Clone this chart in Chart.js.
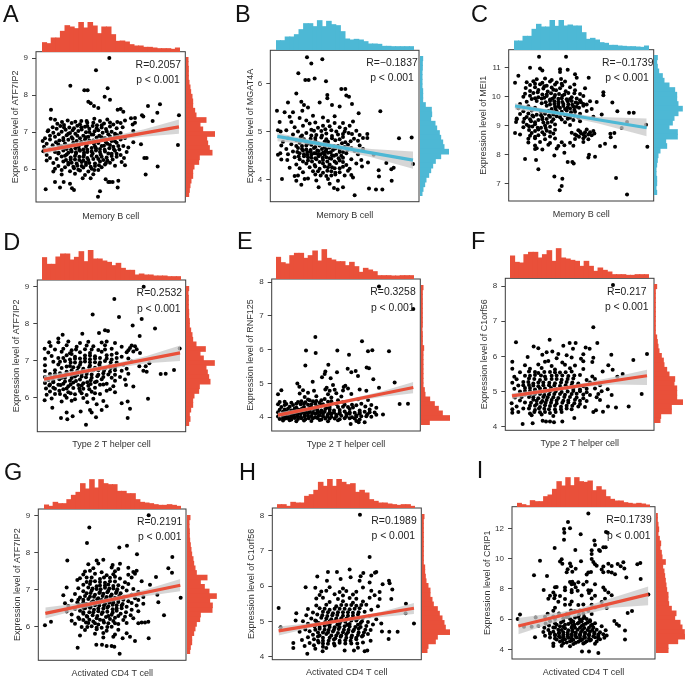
<!DOCTYPE html>
<html><head><meta charset="utf-8">
<script src="https://cdn.jsdelivr.net/npm/chart.js@4"></script>
<style>html,body{margin:0;padding:0;background:#fff;width:685px;height:678px;overflow:hidden;position:relative}canvas{position:absolute}</style>
</head><body>
<script>
// x,y pairs (x = unlabelled cell score in arbitrary units, y = expression)
const aPoints=[328,9,288,8.67,211,8.25,253,8.13,263,8.13,323,8.18,314,7.95,330,7.87,153,7.6,265,7.82,272,7.78,282,7.7,295,7.65,353,7.6,362,7.62,370,7.55,444,7.7,480,7.75,472,7.52,537,7.45,426,7.45,430,7.42,458,7.3,534,6.65,152,7.36,393,7.37,405,7.38,405,7.25,423,6.67,433,6.3,440,6.3,437,5.85,473,6.07,137,5.45,165,5.65,180,5.5,191,5.65,210,5.6,216,5.48,222,5.43,294,5.25,300,5.4,317,5.72,325,5.65,330,5.65,338,5.65,355,5.68,353,5.5,248,5.75,
165,7.33,186,7.27,203,7.31,226,7.28,283,7.36,300,7.3,322,7.34,352,7.27,375,7.31,172,7.22,192,7.19,215,7.24,240,7.21,262,7.25,291,7.18,312,7.23,340,7.2,362,7.24,398,7.2,158,7.13,181,7.16,208,7.12,232,7.17,255,7.14,278,7.16,305,7.12,330,7.15,368,7.13,145,7.05,170,7.09,197,7.06,222,7.1,245,7.07,268,7.09,295,7.05,318,7.08,350,7.1,143,7.02,160,6.98,185,7.01,210,6.97,235,7.03,258,6.99,284,7.02,308,6.98,335,7.01,362,6.97,400,7.03,150,6.9,176,6.94,200,6.91,226,6.95,250,6.9,275,6.93,298,6.9,325,6.94,352,6.91,135,6.83,165,6.87,190,6.84,215,6.86,240,6.83,265,6.87,290,6.85,315,6.83,345,6.87,375,6.84,128,6.76,150,6.8,178,6.77,205,6.79,230,6.76,255,6.8,280,6.77,305,6.79,335,6.76,362,6.8,400,6.72,140,6.68,168,6.72,195,6.69,220,6.71,245,6.68,270,6.72,295,6.7,322,6.68,350,6.71,385,6.58,132,6.6,158,6.64,185,6.61,212,6.63,236,6.6,260,6.64,285,6.61,312,6.63,340,6.6,370,6.62,150,6.53,176,6.57,200,6.54,226,6.56,250,6.53,275,6.57,300,6.54,328,6.56,358,6.53,130,6.48,165,6.46,190,6.5,215,6.47,240,6.49,262,6.46,288,6.5,315,6.47,345,6.49,380,6.46,140,6.38,175,6.42,200,6.39,228,6.41,252,6.38,278,6.42,302,6.39,335,6.41,362,6.38,150,6.3,185,6.34,212,6.31,238,6.33,262,6.3,290,6.34,320,6.31,350,6.33,372,6.3,140,6.23,170,6.27,198,6.24,225,6.26,250,6.23,280,6.27,310,6.24,338,6.26,160,6.16,190,6.2,215,6.17,245,6.19,268,6.16,300,6.2,330,6.17,365,6.19,375,6.1,175,6.08,205,6.12,232,6.09,258,6.11,285,6.08,315,6.12,345,6.09,165,6.01,195,6.05,222,6.02,250,6.04,275,6.01,305,6.05,160,5.93,185,5.97,210,5.94,240,5.96,265,5.93,295,5.97,185,5.85,225,5.87,255,5.84,280,5.86,272,5.75,
192,7.12,218,7.05,244,7.13,268,7,290,7.1,320,7.02,345,6.95,205,6.95,232,6.9,258,6.86,280,6.93,305,6.86,330,6.88,190,6.78,218,6.82,244,6.73,268,6.77,292,6.75,318,6.72,345,6.75,175,6.66,205,6.62,232,6.66,258,6.6,282,6.68,305,6.62,330,6.65,355,6.62,190,6.55,213,6.52,238,6.52,262,6.52,288,6.56,314,6.52,342,6.53,176,6.44,205,6.44,228,6.45,252,6.44,275,6.47,300,6.46,325,6.42,350,6.41,195,6.36,225,6.35,250,6.33,275,6.36,305,6.33,335,6.35,212,6.26,238,6.24,265,6.24,295,6.27,322,6.23,205,6.17,230,6.15,258,6.17,285,6.15,318,6.16,220,6.06,245,6.08,272,6.06,297,6.1,235,5.98,283,5.97,260,7.3,244,7.3,305,7.18,330,7.26,280,7.25,262,7.16];
const bPoints=[237,6.54,250,6.41,283,6.5,211,6.21,232,6.07,242,6.07,260,6.1,294,6.04,340,5.88,352,5.88,355,5.75,363,5.72,298,5.76,298,5.69,205,5.79,180,5.6,220,5.62,228,5.55,147,5.43,170,5.4,195,5.4,223,5.43,240,5.5,275,5.6,312,5.55,335,5.52,372,5.57,457,5.42,392,5.38,418,4.95,418,4.87,513,4.86,551,4.88,555,4.33,491,3.98,437,4.52,475,4.35,452,4.2,453,4.07,497,4.25,490,4.22,162,4.02,380,3.68,423,3.82,444,3.8,463,3.8,329,3.8,318,3.83,345,3.85,272,3.85,220,3.9,205,3.98,200,4.08,240,4.03,230,4.02,185,4.25,160,4.42,150,4.52,157,4.55,155,5.2,150,5.03,158,5,375,4.05,370,4.1,402,4.28,420,4.36,
185,5.31,215,5.28,255,5.33,285,5.29,320,5.32,190,5.2,235,5.23,262,5.19,300,5.22,345,5.18,375,5.21,200,5.09,225,5.12,270,5.08,305,5.11,335,5.09,365,5.12,175,5.03,210,5,250,5.04,280,5.01,310,5.03,350,5,385,5.02,195,4.94,235,4.97,265,4.93,295,4.96,330,4.94,362,4.97,395,4.93,180,4.86,218,4.89,248,4.85,280,4.88,312,4.86,345,4.89,378,4.85,405,4.87,165,4.79,205,4.82,235,4.78,262,4.81,290,4.79,322,4.82,352,4.78,390,4.81,160,4.71,190,4.74,222,4.7,250,4.73,275,4.71,300,4.74,330,4.7,360,4.73,395,4.71,175,4.64,210,4.66,235,4.63,258,4.66,282,4.64,305,4.67,335,4.63,370,4.66,405,4.64,195,4.59,225,4.61,248,4.58,268,4.61,292,4.59,315,4.62,345,4.58,380,4.6,180,4.53,215,4.55,238,4.52,258,4.55,278,4.53,300,4.56,325,4.52,355,4.55,390,4.53,200,4.47,228,4.49,250,4.46,272,4.49,295,4.47,318,4.5,345,4.46,178,4.41,215,4.43,240,4.4,265,4.43,285,4.41,310,4.44,335,4.4,370,4.43,400,4.41,205,4.32,235,4.34,260,4.31,285,4.34,305,4.32,325,4.35,355,4.31,385,4.34,215,4.24,245,4.26,275,4.23,300,4.26,320,4.24,345,4.27,365,4.23,225,4.16,255,4.18,285,4.15,310,4.18,335,4.16,360,4.19,210,4.09,262,4.11,295,4.08,322,4.11,350,4.09,265,3.99,300,4.02,330,3.98,305,3.92,
245,5.17,285,5.12,320,5.18,352,5.06,258,5.02,292,5.05,325,5,372,4.95,222,4.92,250,4.92,282,4.92,312,4.91,345,4.95,228,4.84,262,4.87,295,4.84,335,4.84,368,4.8,215,4.77,240,4.76,270,4.76,300,4.79,342,4.76,205,4.7,235,4.71,262,4.68,290,4.68,318,4.7,350,4.68,222,4.64,248,4.62,272,4.6,295,4.63,322,4.65,358,4.62,208,4.58,238,4.58,262,4.55,285,4.56,308,4.57,335,4.58,228,4.53,250,4.52,270,4.53,290,4.52,312,4.51,340,4.5,212,4.49,240,4.47,262,4.45,284,4.46,305,4.45,332,4.45,225,4.38,252,4.38,275,4.37,298,4.38,320,4.38,345,4.37,262,4.28,290,4.28,312,4.26,335,4.24,270,4.18,298,4.19,322,4.15,278,4.09,310,4.09];
const cPoints=[252,11.38,333,11.38,180,10.48,190,10.72,225,11,255,10.97,262,10.9,315,10.95,338,10.93,315,10.85,360,10.77,365,10.65,401,10.65,445,10.15,445,10.05,472,9.8,487,9.5,522,9.45,536,9.45,516,9.13,500,8.92,573,9.03,577,8.27,480,8.27,467,8.6,478,8.75,466,8.72,450,8.38,435,8.3,210,7.85,243,7.82,250,7.5,298,7.25,322,7.17,320,6.92,314,6.77,483,7.2,516,6.63,338,7.75,352,7.75,356,7.7,402,8,400,7.9,420,7.93,298,7.97,328,8.07,180,8.75,195,8.7,183,9.13,185,9.25,
245,10.6,270,10.63,290,10.58,318,10.61,215,10.5,235,10.53,262,10.48,285,10.52,305,10.49,330,10.52,225,10.4,255,10.43,275,10.38,300,10.42,322,10.39,358,10.42,212,10.3,240,10.33,265,10.28,290,10.32,315,10.29,345,10.33,390,10.29,225,10.2,250,10.23,278,10.18,303,10.22,332,10.19,360,10.22,210,10.1,235,10.13,262,10.08,288,10.12,312,10.09,340,10.13,375,10.09,205,10,225,10.03,250,9.98,275,10.02,298,9.99,322,10.03,350,9.98,385,10.02,230,9.92,260,9.94,285,9.9,310,9.93,335,9.91,365,9.94,215,9.83,245,9.85,272,9.81,298,9.84,322,9.82,350,9.85,378,9.81,405,9.84,425,9.82,195,9.75,260,9.77,285,9.73,310,9.76,340,9.74,368,9.77,395,9.73,220,9.67,275,9.69,300,9.65,325,9.68,355,9.66,385,9.69,190,9.6,240,9.62,290,9.58,315,9.61,345,9.59,372,9.62,410,9.58,205,9.5,230,9.52,258,9.48,280,9.51,305,9.49,335,9.52,360,9.48,395,9.51,195,9.4,220,9.42,245,9.38,270,9.41,295,9.39,320,9.42,345,9.38,375,9.41,440,9.39,215,9.3,235,9.32,262,9.28,285,9.31,315,9.29,340,9.32,370,9.28,415,9.31,185,9.22,208,9.24,250,9.2,275,9.23,320,9.21,338,9.24,355,9.2,205,9.13,228,9.15,265,9.11,290,9.14,330,9.12,375,9.15,215,9.03,240,9.05,270,9.01,300,9.04,345,9.02,205,8.95,232,8.97,258,8.93,285,8.96,222,8.85,250,8.87,275,8.83,300,8.86,370,8.84,395,8.87,230,8.75,262,8.77,295,8.73,350,8.76,378,8.74,405,8.77,418,8.73,225,8.65,250,8.67,285,8.63,365,8.66,390,8.64,410,8.67,220,8.55,240,8.57,270,8.53,300,8.56,360,8.54,385,8.57,400,8.53,220,8.42,255,8.44,285,8.4,320,8.43,345,8.41,385,8.44,240,8.32,280,8.34,310,8.3,328,8.33,355,8.31,240,8.2,245,8.22,262,8.18,305,8.21,
240,10.45,268,10.36,295,10.24,320,10.45,248,10.15,275,10.08,300,10.06,328,10.08,358,10.12,240,9.95,268,9.96,292,9.93,320,9.95,345,9.92,375,9.88,285,9.85,310,9.83,338,9.84,362,9.8,298,9.75,325,9.75,352,9.72,385,9.75,310,9.67,338,9.64,365,9.65,302,9.58,330,9.58,358,9.55,270,9.48,295,9.46,320,9.48,348,9.46,232,9.35,258,9.36,282,9.35,305,9.33,330,9.36,358,9.34,225,9.22,262,9.22,295,9.22,345,9.27,240,9.12,278,9.1,222,8.98,248,8.93,272,8.92,240,8.82,285,8.78,375,8.8,385,8.7,360,8.7,400,8.7,390,8.77,372,8.62,268,8.7,240,8.62,415,8.82];
const dPoints=[431,9,343,8.67,278,8.25,357,8.18,425,8.13,398,7.95,465,7.87,419,7.67,188,7.7,247,7.73,297,7.75,315,7.82,324,7.8,175,7.6,148,7.5,134,7.32,539,7.33,522,6.75,497,6.65,482,6.64,444,5.97,448,6.93,437,6.85,430,6.73,440,6.7,183,5.45,200,5.6,202,5.42,218,5.5,258,5.27,288,5.47,383,5.45,390,5.7,157,5.73,134,5.93,242,5.63,270,5.67,275,5.6,290,5.82,305,5.67,320,5.77,383,5.9,365,5.85,400,6.3,418,6.85,
175,7.5,205,7.52,240,7.48,265,7.51,305,7.49,320,7.52,345,7.48,152,7.4,200,7.42,230,7.38,260,7.41,280,7.39,315,7.42,365,7.38,395,7.41,405,7.39,165,7.3,190,7.32,215,7.28,255,7.31,295,7.29,335,7.32,385,7.28,410,7.31,145,7.22,185,7.24,210,7.2,240,7.23,270,7.21,305,7.24,350,7.2,380,7.23,420,7.21,155,7.13,200,7.15,225,7.11,255,7.14,285,7.12,320,7.15,365,7.11,135,7.05,175,7.07,210,7.03,240,7.06,270,7.04,300,7.07,335,7.03,385,7.06,160,6.97,195,6.99,225,6.95,255,6.98,285,6.96,315,6.99,350,6.95,395,6.98,135,6.88,175,6.9,210,6.86,240,6.89,270,6.87,298,6.9,330,6.86,370,6.89,185,6.8,220,6.82,250,6.78,285,6.81,315,6.79,345,6.82,380,6.78,135,6.72,165,6.74,200,6.7,232,6.73,262,6.71,295,6.74,330,6.7,365,6.73,150,6.64,180,6.66,215,6.62,245,6.65,275,6.63,310,6.66,345,6.62,385,6.65,135,6.56,165,6.58,195,6.54,225,6.57,258,6.55,292,6.58,335,6.54,145,6.48,178,6.5,210,6.46,240,6.49,272,6.47,305,6.5,345,6.46,375,6.49,135,6.4,160,6.42,190,6.38,220,6.41,250,6.39,285,6.42,320,6.38,148,6.33,175,6.35,205,6.31,235,6.34,265,6.32,300,6.35,340,6.31,378,6.34,138,6.25,160,6.27,190,6.23,220,6.26,250,6.24,285,6.27,330,6.23,150,6.17,178,6.19,205,6.15,240,6.18,275,6.16,320,6.19,345,6.15,140,6.08,165,6.1,195,6.06,225,6.09,260,6.07,300,6.1,155,5.98,200,6,225,5.96,250,5.99,280,5.97,185,5.9,215,5.92,262,5.88,310,5.91,
160,6.45,195,6.44,228,6.45,262,6.42,290,6.44,150,6.36,182,6.34,212,6.36,245,6.33,272,6.37,310,6.36,165,6.24,200,6.25,238,6.25,268,6.23,180,6.1,212,6.12,245,6.12,285,6.12,155,6.54,185,6.54,215,6.53,245,6.57,275,6.54,310,6.56,165,6.65,198,6.63,232,6.62,260,6.64,295,6.62,325,6.63,360,6.56,215,6.74,248,6.72,280,6.74,312,6.73,345,6.74,200,6.84,235,6.82,268,6.82,300,6.83,332,6.8,180,6.97,212,6.95,242,6.96,270,6.96,300,6.95,332,6.96,190,7.07,225,7.05,255,7.06,285,7.06,320,7.06,350,7.07,215,7.18,270,7.14,335,7.16,228,7.3,275,7.3,315,7.3,390,7.34,400,7.25];
const ePoints=[453,7.87,556,7.2,262,6.37,402,6.25,234,5.97,263,5.9,328,5.97,363,5.85,420,5.95,433,5.98,483,5.95,232,5.53,301,5.55,292,5.35,290,5.28,327,5.33,359,5.43,370,5.33,383,5.37,390,5.22,416,5.47,423,5.45,436,5.12,254,5.05,208,5,214,4.9,282,5.18,308,5.15,500,5.03,453,4.87,515,4.39,540,4.4,150,4.68,160,4.8,258,4.78,368,3.8,392,3.85,410,3.85,
315,4.95,352,4.93,296,4.87,347,4.89,360,4.85,225,4.8,292,4.82,305,4.78,320,4.81,345,4.79,395,4.82,415,4.78,215,4.7,240,4.72,300,4.68,325,4.71,370,4.69,230,4.6,265,4.62,310,4.58,340,4.61,240,4.52,290,4.54,330,4.5,390,4.53,420,4.51,155,4.45,170,4.46,190,4.43,210,4.45,232,4.44,255,4.47,275,4.43,300,4.46,150,4.38,175,4.39,195,4.36,218,4.38,240,4.37,262,4.4,280,4.36,325,4.39,372,4.37,400,4.4,430,4.36,160,4.3,185,4.31,205,4.28,228,4.3,250,4.29,270,4.32,295,4.28,345,4.31,375,4.29,412,4.32,445,4.28,155,4.22,170,4.23,190,4.2,212,4.22,235,4.21,258,4.24,280,4.2,305,4.23,335,4.21,365,4.24,395,4.2,425,4.23,150,4.15,165,4.16,182,4.13,200,4.15,222,4.14,245,4.17,268,4.13,290,4.16,318,4.14,350,4.17,380,4.13,410,4.16,440,4.14,155,4.08,172,4.09,190,4.06,208,4.08,230,4.07,252,4.1,275,4.06,300,4.09,325,4.07,355,4.1,385,4.06,418,4.09,445,4.07,465,4.08,150,4.02,165,4.03,180,4,198,4.02,218,4.01,240,4.04,262,4,285,4.03,310,4.01,340,4.04,372,4,400,4.03,430,4.01,155,3.95,172,3.96,190,3.93,210,3.95,232,3.94,255,3.97,280,3.93,305,3.96,335,3.94,365,3.97,395,3.93,165,3.9,185,3.91,205,3.88,228,3.9,250,3.89,275,3.92,300,3.88,330,3.91,385,3.89,
200,4.2,222,4.18,245,4.23,268,4.2,292,4.24,318,4.2,180,4.1,200,4.1,218,4.11,240,4.12,262,4.1,285,4.1,310,4.1,335,4.1,365,4.1,395,4.1,172,4.02,190,4.02,208,4.03,230,4.02,250,4.03,272,4.04,298,4.03,325,4.03,355,4.03,385,4.02,415,4.03,165,3.96,182,3.96,200,3.98,220,3.97,242,3.97,268,3.98,292,3.96,320,3.96,350,3.97,380,3.96,175,4.16,192,4.15,210,4.14,232,4.15,255,4.15,278,4.15,305,4.15,335,4.14,365,4.15,395,4.14,425,4.15,180,4.25,200,4.26,222,4.26,245,4.27,268,4.27,305,4.3,330,4.3,360,4.3,170,4.36,205,4.4,228,4.4,250,4.38,285,4.38,350,4.37,385,4.35,220,4.47,245,4.5,265,4.48,280,4.5,310,4.47,345,4.45];
const fPoints=[474,8.03,415,6.83,427,6.38,183,6.4,284,6.47,236,6.28,250,6.23,576,6.07,535,5.9,469,6.05,325,6.3,344,6.38,362,6.38,354,6.22,392,6.25,404,6.22,172,5.85,218,5.98,560,4.93,521,4.58,483,4.55,459,4.58,470,4.9,503,5.5,487,5.42,460,5.75,473,5.62,443,5.57,203,4.08,233,4.1,263,4.17,273,4.15,285,4.15,297,4.13,322,4.15,358,4.25,415,4.42,423,4.47,444,4.43,172,5.65,178,5.42,
275,6.12,292,6.14,262,6.05,310,6.07,335,6.03,385,6.06,305,5.95,350,5.97,378,5.93,415,5.96,270,5.85,280,5.87,322,5.83,385,5.86,412,5.84,210,5.75,250,5.77,290,5.73,330,5.76,360,5.74,225,5.65,260,5.67,300,5.63,345,5.66,385,5.64,195,5.55,222,5.57,250,5.53,285,5.56,315,5.54,350,5.57,210,5.45,240,5.47,270,5.43,305,5.46,340,5.44,375,5.47,412,5.43,185,5.35,222,5.37,255,5.33,290,5.36,320,5.34,355,5.37,395,5.33,420,5.36,172,5.25,205,5.27,235,5.23,265,5.26,300,5.24,335,5.27,370,5.23,405,5.26,190,5.17,222,5.19,250,5.15,282,5.18,315,5.16,350,5.19,385,5.15,435,5.18,178,5.08,210,5.1,240,5.06,270,5.09,305,5.07,335,5.1,375,5.06,420,5.09,458,5.07,195,5,225,5.02,255,4.98,285,5.01,320,4.99,355,5.02,395,4.98,440,5.01,210,4.92,240,4.94,268,4.9,298,4.93,330,4.91,365,4.94,405,4.9,430,4.93,180,4.83,222,4.85,250,4.81,278,4.84,310,4.82,345,4.85,385,4.81,425,4.84,195,4.75,235,4.77,262,4.73,290,4.76,325,4.74,360,4.77,395,4.73,435,4.76,170,4.67,210,4.69,245,4.65,272,4.68,305,4.66,340,4.69,375,4.65,185,4.58,225,4.6,255,4.56,285,4.59,318,4.57,352,4.6,390,4.56,172,4.5,205,4.52,240,4.48,268,4.51,300,4.49,335,4.52,172,4.4,190,4.42,225,4.38,255,4.41,285,4.39,320,4.42,230,4.33,260,4.35,295,4.31,
245,4.74,275,4.76,305,4.75,340,4.75,375,4.74,228,4.68,258,4.68,288,4.68,322,4.68,358,4.67,240,4.6,270,4.61,300,4.6,335,4.6,370,4.58,222,4.52,252,4.52,282,4.5,318,4.5,350,4.5,238,4.42,270,4.42,302,4.42,200,4.85,235,4.84,265,4.85,295,4.84,328,4.85,365,4.83,225,4.92,255,4.93,282,4.92,315,4.93,350,4.93,385,4.92,210,5.02,240,5.02,270,5,302,5,338,5,375,5.01,225,5.1,255,5.09,288,5.1,320,5.09,355,5.08,395,5.08,205,5.18,235,5.17,265,5.18,298,5.17,332,5.18,368,5.17,220,5.27,250,5.26,283,5.25,318,5.26,352,5.26,238,5.36,272,5.36,305,5.36,338,5.36,225,5.45,258,5.46,290,5.45,322,5.46,358,5.46,240,5.56,268,5.56,300,5.55,332,5.55];
const gPoints=[446,9,268,8.67,261,8.25,202,7.78,381,8.18,358,8.13,411,7.95,517,7.87,505,7.57,516,7.45,135,6.03,153,6.12,542,6.77,492,6.3,446,5.68,233,5.42,289,5.5,306,5.5,320,5.47,335,5.47,343,5.45,359,5.26,240,5.75,405,5.6,390,5.72,190,6.84,200,7.05,232,7.25,468,7.33,450,7.12,472,6.85,475,6.65,445,6.12,435,6.1,425,6.1,415,6.08,
290,7.78,310,7.8,265,7.68,295,7.7,338,7.66,360,7.69,280,7.57,335,7.59,355,7.55,385,7.58,255,7.48,270,7.5,305,7.46,345,7.49,400,7.47,410,7.5,250,7.4,285,7.42,320,7.38,340,7.41,385,7.39,405,7.42,240,7.3,275,7.32,300,7.28,330,7.31,360,7.29,395,7.32,260,7.2,285,7.22,315,7.18,345,7.21,375,7.19,425,7.22,250,7.12,270,7.14,300,7.1,325,7.13,355,7.11,385,7.14,235,7.03,265,7.05,290,7.01,315,7.04,340,7.02,368,7.05,400,7.01,250,6.95,275,6.97,300,6.93,325,6.96,350,6.94,380,6.97,415,6.93,225,6.87,260,6.89,285,6.85,310,6.88,335,6.86,362,6.89,395,6.85,240,6.78,270,6.8,295,6.76,320,6.79,345,6.77,372,6.8,405,6.76,430,6.79,215,6.7,250,6.72,280,6.68,305,6.71,330,6.69,355,6.72,385,6.68,415,6.71,195,6.62,232,6.64,260,6.6,288,6.63,315,6.61,340,6.64,368,6.6,395,6.63,430,6.61,205,6.55,245,6.57,272,6.53,298,6.56,325,6.54,350,6.57,380,6.53,410,6.56,225,6.47,255,6.49,282,6.45,310,6.48,338,6.46,365,6.49,395,6.45,200,6.4,240,6.42,268,6.38,295,6.41,322,6.39,350,6.42,378,6.38,415,6.41,215,6.32,250,6.34,278,6.3,305,6.33,335,6.31,362,6.34,392,6.3,235,6.24,262,6.26,290,6.22,318,6.25,345,6.23,375,6.26,400,6.22,215,6.15,250,6.17,280,6.13,310,6.16,340,6.14,370,6.17,225,6.07,265,6.09,295,6.05,325,6.08,355,6.06,380,6.09,245,5.98,275,6,305,5.96,335,5.99,255,5.9,290,5.92,320,5.88,355,5.91,285,5.8,310,5.82,345,5.78,380,5.81,310,5.7,340,5.72,368,5.68,
250,6.5,270,6.5,295,6.48,322,6.5,350,6.48,238,6.58,262,6.56,285,6.57,312,6.56,338,6.58,365,6.56,250,6.64,275,6.65,300,6.65,328,6.64,355,6.66,235,6.72,265,6.74,292,6.73,318,6.74,342,6.73,370,6.72,255,6.82,282,6.8,308,6.82,332,6.81,358,6.82,272,6.9,298,6.9,322,6.92,348,6.9,278,7.02,302,7,328,7.02,352,7,290,7.08,315,7.1,340,7.09,272,7.22,300,7.2,330,7.22,260,7.32,312,7.32,345,7.34,250,6.38,280,6.38,308,6.38,338,6.37,260,6.28,292,6.28,325,6.28,355,6.28,238,6.2,268,6.18,300,6.18,330,6.2,258,6.1,285,6.08,312,6.1,345,6.08,262,5.98,290,5.96,322,5.98];
const hPoints=[396,8.03,425,6.83,152,5.38,158,4.83,233,5.97,268,6.27,300,6.4,327,6.4,365,6.47,406,6.37,398,6.28,395,6.15,441,6.38,445,6.4,430,6.3,297,6.15,338,6.2,368,6.25,425,6.1,464,6.05,483,6.15,485,6.08,493,5.9,490,5.63,534,5.5,533,5.23,558,4.94,509,4.7,484,4.7,482,4.5,205,5.23,203,5.02,196,4.38,196,4.24,238,4.08,350,4.17,378,4.17,410,4.15,418,4.17,390,4.25,284,4.15,
262,5.95,305,5.97,345,5.93,405,5.96,280,5.85,295,5.87,335,5.83,355,5.86,385,5.84,430,5.87,455,5.83,275,5.75,320,5.77,345,5.73,375,5.76,440,5.74,265,5.65,285,5.67,330,5.63,365,5.66,385,5.64,425,5.67,455,5.63,305,5.55,345,5.57,375,5.53,405,5.56,265,5.45,295,5.47,325,5.43,355,5.46,385,5.44,415,5.47,450,5.43,240,5.35,275,5.37,305,5.33,335,5.36,365,5.34,395,5.37,430,5.33,255,5.25,285,5.27,315,5.23,345,5.26,375,5.24,410,5.27,235,5.17,268,5.19,298,5.15,328,5.18,360,5.16,390,5.19,425,5.15,250,5.08,280,5.1,310,5.06,340,5.09,372,5.07,405,5.1,445,5.06,225,5,262,5.02,292,4.98,322,5.01,352,4.99,385,5.02,420,4.98,240,4.93,272,4.95,305,4.91,335,4.94,365,4.92,398,4.95,435,4.91,460,4.94,260,4.85,290,4.87,320,4.83,350,4.86,382,4.84,415,4.87,232,4.77,275,4.79,302,4.75,332,4.78,362,4.76,392,4.79,428,4.75,215,4.7,245,4.72,285,4.68,315,4.71,345,4.69,375,4.72,408,4.68,462,4.71,255,4.62,295,4.64,325,4.6,355,4.63,390,4.61,420,4.64,240,4.55,270,4.57,305,4.53,338,4.56,370,4.54,402,4.57,222,4.47,258,4.49,285,4.45,318,4.48,352,4.46,385,4.49,428,4.45,245,4.38,272,4.4,300,4.36,335,4.39,370,4.37,405,4.4,230,4.3,258,4.32,285,4.28,320,4.31,262,4.22,295,4.24,
268,4.92,298,4.92,328,4.9,358,4.9,390,4.9,275,4.84,305,4.84,335,4.84,365,4.85,398,4.84,262,4.76,290,4.76,318,4.76,348,4.76,378,4.76,412,4.76,270,4.68,300,4.68,330,4.67,360,4.69,392,4.68,275,4.6,310,4.6,340,4.6,372,4.6,405,4.6,285,4.53,322,4.52,355,4.53,385,4.53,270,4.45,302,4.45,335,4.45,368,4.45,285,4.37,318,4.37,352,4.37,388,4.37,265,5,305,5,338,5,370,5.02,402,5,295,5.08,325,5.08,356,5.08,390,5.08,283,5.17,313,5.17,345,5.16,375,5.16,300,5.26,330,5.26,360,5.26,392,5.26,290,5.36,320,5.36,350,5.36,380,5.36,340,5.46,370,5.46,400,5.46];
const iPoints=[400,12.97,339,12.42,327,11.95,345,12,328,11.7,377,11.6,327,11.25,453,11.75,458,11.7,299,10.7,361,10.57,255,9.85,237,8.9,276,8.85,266,7.93,557,8.65,556,9.7,547,9.62,514,8.75,508,9.35,505,9.75,531,6.53,518,6.4,510,4.65,510,5.25,188,6,195,6.3,240,4.8,207,5.5,230,5.5,242,6.1,580,7.63,418,11.2,420,10.9,445,10.75,452,10.75,435,10.5,
410,10.55,432,10.57,410,10.3,320,9.95,410,9.97,315,9.8,378,9.82,415,9.78,322,9.65,345,9.67,420,9.63,460,9.66,488,9.64,348,9.5,425,9.52,445,9.48,470,9.51,497,9.49,338,9.3,362,9.32,440,9.28,335,9.1,352,9.12,400,9.08,408,9.11,445,9.09,460,9.12,470,9.08,395,8.95,480,8.97,345,8.45,352,8.47,370,8.43,395,8.46,350,8.3,358,8.32,385,8.28,420,8.31,300,8.1,305,8.12,330,8.08,362,8.11,445,8.09,330,7.9,350,7.92,368,7.88,400,7.91,408,7.89,450,7.92,295,7.75,350,7.77,402,7.73,460,7.76,285,7.55,300,7.57,315,7.53,380,7.56,420,7.54,470,7.57,280,7.35,298,7.37,330,7.33,410,7.36,450,7.34,310,7.15,350,7.17,440,7.13,330,6.95,345,6.97,370,6.93,385,6.96,410,6.94,300,6.75,420,6.77,455,6.73,295,6.55,348,6.57,360,6.53,375,6.56,400,6.54,278,6.35,312,6.37,335,6.33,385,6.36,410,6.34,270,6.15,295,6.17,335,6.13,370,6.16,388,6.14,300,6,345,6.02,375,5.98,395,6.01,285,5.85,325,5.87,355,5.83,380,5.86,405,5.84,478,5.87,272,5.7,300,5.72,340,5.68,368,5.71,392,5.69,420,5.72,485,5.68,250,5.55,282,5.57,315,5.53,352,5.56,380,5.54,408,5.57,440,5.53,492,5.56,268,5.42,295,5.44,330,5.4,360,5.43,388,5.41,415,5.44,280,5.28,310,5.3,340,5.26,368,5.29,398,5.27,425,5.3,452,5.26,265,5.15,295,5.17,325,5.13,352,5.16,378,5.14,405,5.17,435,5.13,285,5.02,312,5.04,338,5,362,5.03,390,5.01,418,5.04,445,5,270,4.9,300,4.92,325,4.88,350,4.91,375,4.89,402,4.92,430,4.88,455,4.91,285,4.78,315,4.8,340,4.76,365,4.79,390,4.77,420,4.8,448,4.76,305,4.65,330,4.67,355,4.63,382,4.66,408,4.64,435,4.67,315,4.52,345,4.54,370,4.5,395,4.53,425,4.51,295,4.38,325,4.4,355,4.36,385,4.39,420,4.37,295,4.22,320,4.24,345,4.2,381,3.85,402,3.85,430,3.75,
300,5.45,325,5.5,350,5.45,375,5.42,402,5.42,285,5.1,312,5.12,338,5.1,362,5.12,390,5.12,418,5.12,300,4.98,325,4.98,350,4.98,375,5,402,5,430,4.98,312,4.86,338,4.86,362,4.86,388,4.86,415,4.86,300,4.72,325,4.72,350,4.72,375,4.72,402,4.72,430,4.72,322,4.58,350,4.58,378,4.58,405,4.58,335,4.45,362,4.44,390,4.46,320,5.28,352,5.28,382,5.28,412,5.28,305,5.62,330,5.62,358,5.62,385,5.62,412,5.62,318,5.78,348,5.78,372,5.78,398,5.78,350,5.9,378,5.9,405,5.92,360,6.1,385,6.05,325,6.05,340,6.25,372,6.28];

// marginal histograms (30 bins each)
const aTop=[28,25,42,42,62,79,75,70,90,72,90,78,55,75,75,52,32,33,30,22,18,18,14,14,12,10,10,10,8,12];
const bTop=[28,28,39,39,46,61,79,79,70,88,70,86,76,73,55,33,30,32,30,25,18,18,17,11,11,10,10,10,10,10];
const cTop=[27,27,41,41,62,77,69,69,89,71,89,72,75,72,72,52,32,35,30,22,20,14,14,12,11,10,10,9,8,12];
const dTop=[67,47,47,69,78,78,60,68,85,55,89,63,63,57,53,43,50,35,29,29,15,18,15,15,12,12,12,10,10,10];
const eTop=[65,49,45,70,77,77,62,70,84,54,88,62,57,52,52,40,50,37,20,32,27,22,10,10,10,9,9,10,10,10];
const fTop=[66,47,45,70,77,77,60,70,82,50,88,60,57,53,50,35,50,35,20,30,23,18,10,10,10,8,8,10,10,10];
const gTop=[12,8,20,16,16,28,41,50,76,60,88,63,88,76,73,73,53,53,46,46,28,20,18,16,13,11,11,13,11,8];
const hTop=[10,10,5,17,15,15,35,40,53,77,65,87,65,87,77,70,73,47,53,45,25,20,15,15,12,10,8,10,10,5];
const iTop=[11,7,4,19,16,16,31,36,53,76,63,88,64,88,76,74,78,49,61,51,31,23,18,18,13,11,9,11,9,6];
const aRight=[6,6,7,7,7,9,12,14,18,20,20,26,30,60,42,50,86,62,65,70,78,40,38,24,20,20,15,12,10,8];
const bRight=[8,7,7,6,6,6,6,8,8,8,16,34,35,32,45,50,58,62,68,72,86,62,46,38,32,26,18,14,9,6];
const cRight=[10,8,10,14,25,30,45,62,68,68,72,85,72,60,55,45,70,70,35,38,18,12,10,8,6,6,8,8,6,8];
const dRight=[8,6,7,7,7,8,8,10,10,14,18,20,30,58,42,52,85,60,64,68,72,40,38,24,20,20,14,10,12,8];
const eRight=[6,4,4,4,4,4,4,4,4,3,4,4,4,8,6,6,6,6,6,6,6,6,10,12,26,40,52,64,86,25];
const fRight=[8,4,4,4,4,4,4,4,4,4,4,8,10,12,15,22,28,30,38,45,62,60,68,68,68,87,52,52,20,18];
const gRight=[9,6,6,7,7,8,10,12,14,18,20,24,28,60,40,52,66,88,68,76,75,40,38,28,24,20,14,14,10,8];
const hRight=[6,4,4,4,4,4,4,4,4,4,4,8,8,10,12,18,24,24,30,34,46,52,60,66,70,84,46,40,18,15];
const iRight=[4,4,6,8,6,10,14,12,16,18,28,20,24,26,28,30,32,36,36,38,46,60,56,72,78,85,86,65,36,36];

// fitted lines: x ends, y ends; confidence band: x, upper, lower
const aLine=[130,6.49,537,7.14], aBandX=[130,260,340,430,537], aBandUp=[6.58,6.78,6.9,7.07,7.34], aBandLo=[6.4,6.66,6.78,6.87,6.95];
const bLine=[148,4.9,555,4.41], bBandX=[148,250,330,430,555], bBandUp=[4.97,4.83,4.73,4.64,4.59], bBandLo=[4.8,4.73,4.63,4.47,4.23];
const cLine=[180,9.68,575,8.93], cBandX=[180,320,430,575], cBandUp=[9.77,9.47,9.3,9.25], cBandLo=[9.56,9.35,9.08,8.64];
const dLine=[132,6.5,540,7.21], dBandX=[132,260,350,440,540], dBandUp=[6.6,6.79,6.94,7.13,7.41], dBandLo=[6.41,6.66,6.8,6.93,6.99];
const eLine=[150,4.06,556,4.88], eBandX=[150,280,370,460,556], eBandUp=[4.14,4.35,4.55,4.76,5.04], eBandLo=[3.99,4.27,4.46,4.6,4.71];
const fLine=[171,4.88,576,5.45], fBandX=[171,300,390,480,576], fBandUp=[4.95,5.11,5.25,5.42,5.62], fBandLo=[4.79,5.01,5.13,5.2,5.19];
const gLine=[136,6.35,541,7.11], gBandX=[136,260,340,440,541], gBandUp=[6.51,6.65,6.79,7.0,7.28], gBandLo=[6.21,6.51,6.67,6.82,6.95];
const hLine=[152,4.73,558,5.37], hBandX=[152,280,360,460,558], hBandUp=[4.85,4.98,5.09,5.27,5.52], hBandLo=[4.6,4.89,5.0,5.12,5.21];
const iLine=[190,5.54,580,7.63], iBandX=[190,320,380,470,580], iBandUp=[6.07,6.46,6.75,7.4,8.15], iBandLo=[5.0,5.92,6.25,6.75,6.92];

const aTicks=[6,7,8,9], bTicks=[4,5,6], cTicks=[7,8,9,10,11], dTicks=[6,7,8,9], eTicks=[4,5,6,7,8], fTicks=[4,5,6,7,8], gTicks=[6,7,8,9], hTicks=[4,5,6,7,8], iTicks=[4,6,8,10,12];
const letters=["A","B","C","D","E","F","G","H","I"];
const genes=["ATF7IP2","MGAT4A","MEI1","ATF7IP2","RNF125","C1orf56","ATF7IP2","C1orf56","CRIP1"];
const cells=["Memory B cell","Memory B cell","Memory B cell","Type 2 T helper cell","Type 2 T helper cell","Type 2 T helper cell","Activated CD4 T cell","Activated CD4 T cell","Activated CD4 T cell"];
const rValues=["R=0.2057","R=\u22120.1837","R=\u22120.1739","R=0.2532","R=0.3258","R=0.217","R=0.2191","R=0.1989","R=0.1739"];
const pValue="p < 0.001";
const RED="#E9503A", BLUE="#4DB8D5";

// layout: cell left/top, crop x-range (x axis), box, hist extents, axis calibration, text anchors
const L=[
 {cx:0,cy:0,cw:228,ch:225,xr:[108,556],box:[36,51.7,185.3,202],top:[42.3,179.3],topBase:51.7,right:[186,57.3,197],t0:[58,9,37],c:RED,yt:15,xt:215,R:[158.3,65,158,80],let:[3,22]},
 {cx:228,cy:0,cw:227,ch:225,xr:[127,573],box:[270.3,50.3,419,201.7],top:[276,413.3],topBase:50.3,right:[419.7,56,196],t0:[83.3,6,48.3],c:BLUE,yt:249.7,xt:214,R:[392,63.3,392,78],let:[235,21.7]},
 {cx:455,cy:0,cw:230,ch:225,xr:[161,596],box:[508.7,49.7,653.7,201],top:[514,648.3],topBase:49.7,right:[654,55,195],t0:[67.7,11,29],c:BLUE,yt:483,xt:213,R:[627.7,62.7,627,77.7],let:[471,22]},
 {cx:0,cy:225,cw:228,ch:228,xr:[112,557],box:[37.3,280,185.7,431.7],top:[42.7,180.3],topBase:280,right:[186.3,285.7,425.7],t0:[286.7,9,37],c:RED,yt:15.7,xt:443,R:[159.3,293,158.7,308.7],let:[3.3,250]},
 {cx:228,cy:225,cw:227,ch:228,xr:[131,577],box:[271.7,279,420.3,431],top:[276.7,414],topBase:279,right:[420.7,285,425],t0:[282,8,33.8],c:RED,yt:250,xt:443,R:[393,292,392.7,307.7],let:[237,249]},
 {cx:455,cy:225,cw:230,ch:228,xr:[151,597],box:[505.3,278.3,654,430.3],top:[510.7,648.3],topBase:278.3,right:[654.3,284.3,423.7],t0:[286,8,35.2],c:RED,yt:484,xt:441.7,R:[626.7,291.7,626.7,307],let:[471,249]},
 {cx:0,cy:453,cw:228,ch:225,xr:[115,558],box:[38.3,509,186,660.3],top:[44,181],topBase:509,right:[186.7,514.7,654],t0:[515.3,9,37],c:RED,yt:16.7,xt:672,R:[159.7,521.7,159.7,537.3],let:[4,480]},
 {cx:228,cy:453,cw:227,ch:225,xr:[133,580],box:[272.3,508,421.3,659.7],top:[277.7,415],topBase:508,right:[421.7,514,653],t0:[515.7,8,35.2],c:RED,yt:251,xt:671,R:[394,521.3,393.3,536.3],let:[239,480]},
 {cx:455,cy:453,cw:230,ch:225,xr:[171,600],box:[512,506.7,655,659],top:[517,649.7],topBase:506.7,right:[655.5,513,653],t0:[528.3,12,15.13],c:RED,yt:487,xt:671,R:[629,520,628.7,535.7],let:[476.7,478]}
];
const allPoints=[aPoints,bPoints,cPoints,dPoints,ePoints,fPoints,gPoints,hPoints,iPoints];
const allTop=[aTop,bTop,cTop,dTop,eTop,fTop,gTop,hTop,iTop];
const allRight=[aRight,bRight,cRight,dRight,eRight,fRight,gRight,hRight,iRight];
const allLine=[aLine,bLine,cLine,dLine,eLine,fLine,gLine,hLine,iLine];
const allBandX=[aBandX,bBandX,cBandX,dBandX,eBandX,fBandX,gBandX,hBandX,iBandX];
const allBandUp=[aBandUp,bBandUp,cBandUp,dBandUp,eBandUp,fBandUp,gBandUp,hBandUp,iBandUp];
const allBandLo=[aBandLo,bBandLo,cBandLo,dBandLo,eBandLo,fBandLo,gBandLo,hBandLo,iBandLo];
const allTicks=[aTicks,bTicks,cTicks,dTicks,eTicks,fTicks,gTicks,hTicks,iTicks];

const FONT="'Liberation Sans',Arial,sans-serif";
function mk(x,y,w,h){const c=document.createElement('canvas');c.width=w;c.height=h;c.style.left=x+'px';c.style.top=y+'px';c.style.width=w+'px';c.style.height=h+'px';document.body.appendChild(c);return c;}
function pairs(f){const o=[];for(let i=0;i<f.length;i+=2)o.push({x:f[i],y:f[i+1]});return o;}
Chart.defaults.animation=false;Chart.defaults.font.family=FONT;

L.forEach((p,i)=>{
 const [bl,bt,br,bb]=p.box, lh=14;
 const yMin=p.t0[1]-(bb-p.t0[0])/p.t0[2], yMax=p.t0[1]+(p.t0[0]-bt)/p.t0[2];
 const decor={id:'decor'+i,
  afterDraw(ch){const g=ch.ctx,a=ch.chartArea;g.save();
   g.strokeStyle='#3a3a3a';g.lineWidth=1;g.strokeRect(a.left,a.top,a.right-a.left,a.bottom-a.top);
   g.fillStyle='#222';g.textAlign='center';g.textBaseline='middle';g.font='10.4px '+FONT;
   g.fillText(rValues[i],p.R[0]-p.cx,p.R[1]-p.cy);g.fillText(pValue,p.R[2]-p.cx,p.R[3]-p.cy);
   g.textAlign='left';g.textBaseline='alphabetic';g.font='23.5px '+FONT;g.fillStyle='#111';
   g.fillText(letters[i],p.let[0]-p.cx,p.let[1]-p.cy);g.restore();}
 };
 const band=allBandX[i];
 new Chart(mk(p.cx,p.cy,p.cw,p.ch),{type:'scatter',
  data:{datasets:[
   {data:pairs(allPoints[i]),backgroundColor:'#000',borderColor:'#000',pointRadius:2,pointBorderWidth:0,order:3},
   {data:band.map((x,k)=>({x,y:allBandUp[i][k]})),showLine:true,pointRadius:0,borderWidth:0,borderColor:'transparent',backgroundColor:'rgba(200,200,200,0.75)',fill:'+1',order:2},
   {data:band.map((x,k)=>({x,y:allBandLo[i][k]})),showLine:true,pointRadius:0,borderWidth:0,borderColor:'transparent',fill:false,order:2},
   {data:pairs(allLine[i]),showLine:true,pointRadius:0,borderWidth:3.2,borderColor:p.c,fill:false,order:1}
  ]},
  options:{responsive:false,animation:false,devicePixelRatio:1,
   layout:{padding:{left:0,top:bt-p.cy,right:p.cx+p.cw-br,bottom:0}},
   plugins:{legend:{display:false},tooltip:{enabled:false},title:{display:false}},
   scales:{
    x:{type:'linear',min:p.xr[0],max:p.xr[1],grid:{display:false},border:{display:false},ticks:{display:false},
     title:{display:true,text:cells[i],color:'#333',font:{size:9,family:FONT},padding:{top:p.cy+p.ch-p.xt-lh/2,bottom:p.cy+p.ch-p.xt-lh/2}},
     afterFit(s){s.height=p.cy+p.ch-bb;}},
    y:{type:'linear',min:yMin,max:yMax,border:{display:false},
     grid:{display:true,drawOnChartArea:false,drawTicks:true,tickLength:4,color:'#444'},
     ticks:{color:'#333',font:{size:8,family:FONT},padding:4,autoSkip:false,maxRotation:0},
     afterBuildTicks(s){s.ticks=allTicks[i].map(v=>({value:v}));},
     title:{display:true,text:'Expression level of '+genes[i],color:'#333',font:{size:9,family:FONT},padding:{top:p.yt-p.cx-5,bottom:p.yt-p.cx-5}},
     afterFit(s){s.width=bl-p.cx;}}
   }},
  plugins:[decor]});

 const tv=allTop[i], tmax=Math.max(...tv), th=Math.ceil(tmax/3);
 const tx=Math.floor(p.top[0]), tw=Math.ceil(p.top[1]-tx);
 new Chart(mk(tx,Math.round(p.topBase)-th,tw,th),{type:'bar',
  data:{labels:tv.map((_,k)=>k+1),datasets:[{data:tv,backgroundColor:p.c,borderWidth:0,inflateAmount:0.5,barPercentage:1,categoryPercentage:1}]},
  options:{responsive:false,animation:false,devicePixelRatio:1,layout:{padding:0},plugins:{legend:{display:false},tooltip:{enabled:false}},
   scales:{x:{display:false},y:{display:false,min:0,max:th*3}}}});

 const rv=allRight[i], rmax=Math.max(...rv), rw=Math.ceil(rmax/3);
 const rx=Math.round(p.right[0]), ry=Math.round(p.right[1]), rh=Math.round(p.right[2]-p.right[1]);
 new Chart(mk(rx,ry,rw,rh),{type:'bar',
  data:{labels:rv.map((_,k)=>k+1),datasets:[{data:rv,backgroundColor:p.c,borderWidth:0,inflateAmount:0.5,barPercentage:1,categoryPercentage:1}]},
  options:{indexAxis:'y',responsive:false,animation:false,devicePixelRatio:1,layout:{padding:0},plugins:{legend:{display:false},tooltip:{enabled:false}},
   scales:{y:{display:false},x:{display:false,min:0,max:rw*3}}}});
});
</script>
</body></html>
